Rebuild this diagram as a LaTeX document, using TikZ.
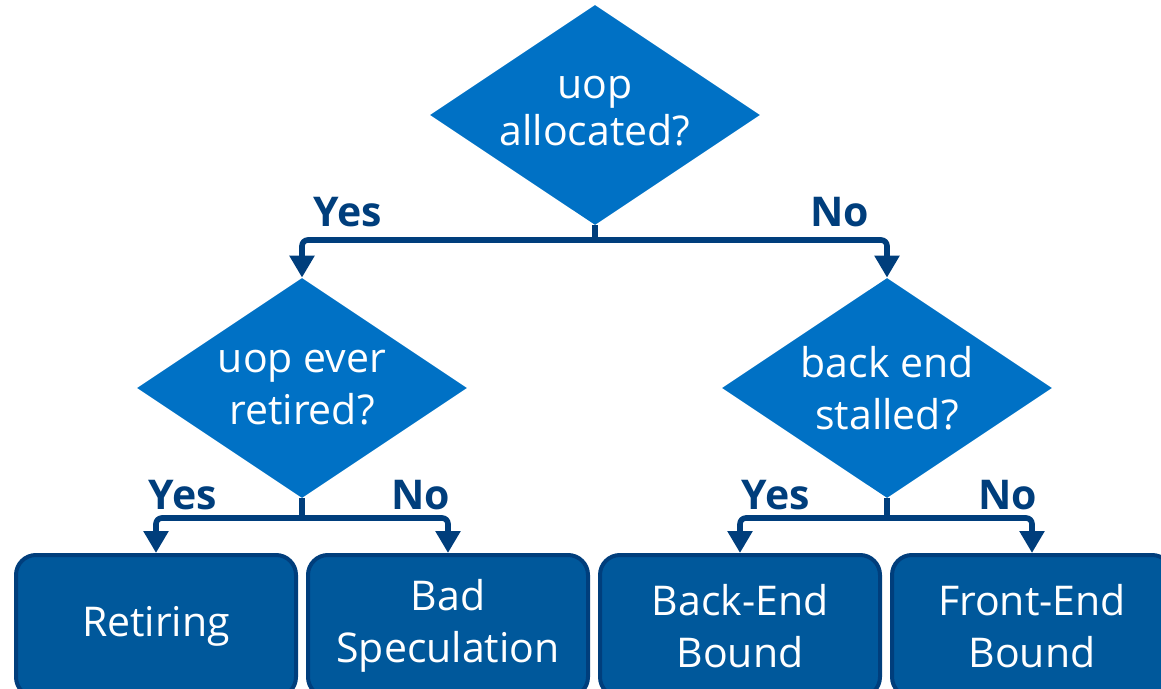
\documentclass[tikz,border=0pt]{standalone}
\usepackage{fontspec}
\setmainfont{Open Sans}
\usetikzlibrary{shapes.geometric,positioning,arrows.meta}
\definecolor{decblue}{HTML}{0071C5}
\definecolor{catblue}{HTML}{00589B}
\definecolor{navy}{HTML}{003E7C}
\tikzset{
	category/.style={
		rectangle,
		rounded corners=10pt,
		draw=navy,
		line width=2pt,
		fill=catblue,
		text=white,
		align=center,
		minimum width=140pt,
		minimum height=71pt,
		font=\fontsize{20.5}{26}\selectfont
	}
}

\begin{document}
\begin{tikzpicture}[x=0.5pt,y=-0.5pt]
		\tikzstyle{decision}=[diamond, aspect=1.5, fill=decblue, text=white, align=center, inner sep=-6pt, minimum width=165pt, minimum height=110pt, font=\fontsize{20.5}{26}\selectfont]
		\tikzstyle{connect}=[draw=navy, line width=2.8pt, rounded corners=3pt]
		\tikzstyle{branch}=[text=navy, font=\fontsize{20.5}{24}\bfseries\selectfont]
		\path[use as bounding box, clip] (0,0) rectangle (1161,689);
		
		\node[decision] (alloc) at (595,115) {\raisebox{4pt}{\shortstack{uop\\allocated?}}};
		\node[decision] (retired) at (302,388) {uop ever\\retired?};
		\node[decision] (stalled) at (887,388) {back end\\stalled?};
		
		\node[category] (ret) at (156,626) {Retiring};
		\node[category] (bad) [right=4pt of ret] {Bad\\Speculation};
		\node[category] (be) [right=4pt of bad] {Back-End\\Bound};
		\node[category] (fe) [right=4pt of be] {Front-End\\Bound};
		
		\coordinate (j1) at (595,240);
		\coordinate (j2) at (302,518);
		\coordinate (j3) at (887,518);
		
		\draw[connect] (alloc.south) -- (j1);
		\draw[connect, -{Triangle[width=12pt,length=11pt]}] (j1) -| (retired.north);
		\draw[connect, -{Triangle[width=12pt,length=11pt]}] (j1) -| (stalled.north);
		
		\draw[connect] (retired.south) -- (j2);
		\draw[connect, -{Triangle[width=12pt,length=11pt]}] (j2) -| (ret.north);
		\draw[connect, -{Triangle[width=12pt,length=11pt]}] (j2) -| (bad.north);
		
		\draw[connect] (stalled.south) -- (j3);
		\draw[connect, -{Triangle[width=12pt,length=11pt]}] (j3) -| (be.north);
		\draw[connect, -{Triangle[width=12pt,length=11pt]}] (j3) -| (fe.north);
		
		\node[branch] (y1) at (348,212) {Yes};
		\node[branch] (n1) at (840,212) {No};
		\node[branch] (y2) at (183,495) {Yes};
		\node[branch] (n2) at (421,495) {No};
		\node[branch] (y3) at (776,495) {Yes};
		\node[branch] (n3) at (1008,495) {No};
		
\end{tikzpicture}
\end{document}
